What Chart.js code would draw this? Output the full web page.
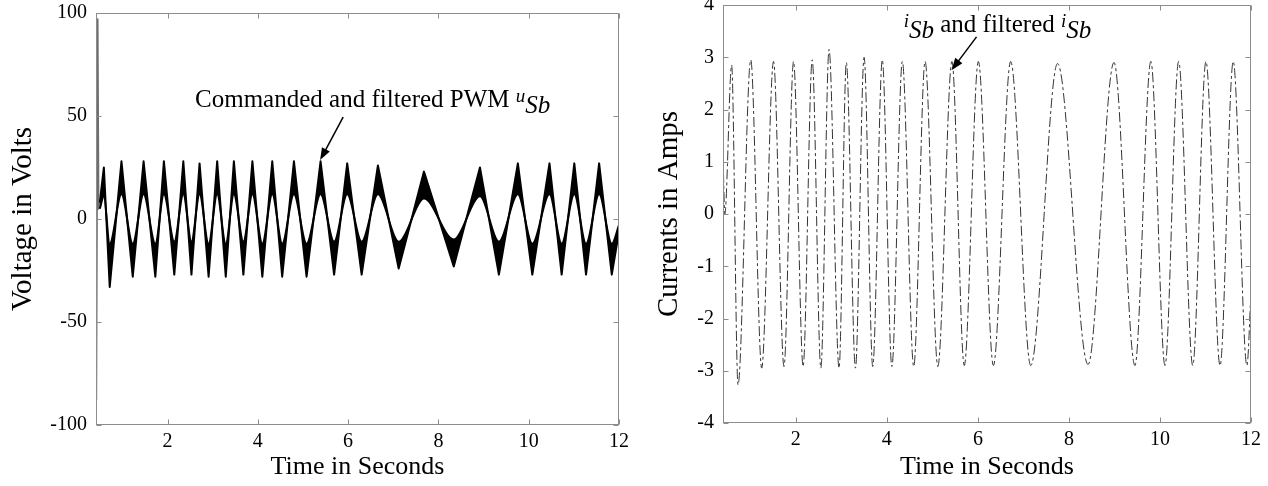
<!DOCTYPE html>
<html>
<head>
<meta charset="utf-8">
<script src="https://cdn.jsdelivr.net/npm/chart.js@4.4.0/dist/chart.umd.min.js"></script>
<style>
    html, body { margin: 0; padding: 0; background: #fff; }
    #wrap { position: relative; width: 1268px; height: 486px; overflow: hidden; }
    canvas { position: absolute; top: 0; }
    #volt-chart { left: 0; }
    #amp-chart { left: 640px; }
</style>
</head>
<body>
<div id="wrap">
    <canvas id="volt-chart" width="640" height="486"></canvas>
    <canvas id="amp-chart" width="628" height="486"></canvas>
</div>
<script>
// Left panel: PWM voltage band, read at its peaks and valleys
const voltTimes = [0.50, 0.59, 0.72, 0.98, 1.23, 1.47, 1.73, 1.92, 2.15, 2.35, 2.53, 2.71, 2.91, 3.10, 3.29, 3.47, 3.68, 3.88, 4.10, 4.32, 4.54,
    4.80, 5.08, 5.39, 5.69, 5.98, 6.30, 6.66, 7.12, 7.68, 8.34, 8.92, 9.34, 9.76, 10.08, 10.46, 10.73, 11.01, 11.27, 11.56, 11.84, 12.0];
const voltOuter = [8, 25, -33, 28, -28, 28, -28, 28, -27, 28, -27, 27, -28, 28, -28, 28, -27, 28, -28, 28, -28,
    28, -28, 28, -27, 27, -27, 26, -24, 23, -23, 25, -27, 27, -27, 27, -27, 27, -27, 27, -27, -6];
const voltInner = [5, 11, -12, 12, -12, 12, -12, 12, -11, 12, -11, 12, -12, 12, -12, 12, -11, 12, -12, 12, -12,
    12, -12, 12, -11, 12, -11, 12, -11, 10, -10, 11, -11, 12, -12, 12, -12, 12, -12, 12, -12, -3];
// start-up spike
const voltStartTimes = [0.42, 0.45, 0.47, 0.50];
const voltStartValues = [-88, 97, 5, 8];

// Right panel: i_Sb, read at its peaks and valleys
const ampTimes = [0.40, 0.44, 0.59, 0.73, 1.01, 1.25, 1.51, 1.74, 1.95, 2.16, 2.36, 2.55, 2.73, 2.95, 3.11, 3.31, 3.50, 3.69, 3.90, 4.11, 4.34,
    4.59, 4.84, 5.12, 5.43, 5.70, 6.01, 6.34, 6.72, 7.16, 7.75, 8.42, 8.99, 9.45, 9.80, 10.11, 10.41, 10.72, 11.01, 11.32, 11.61, 11.91, 12.0];
const ampValues = [1.15, 0.0, 2.85, -3.27, 2.95, -2.95, 2.92, -2.92, 2.92, -2.92, 2.95, -2.95, 3.15, -2.95, 2.9, -2.95, 3.0, -2.92, 2.95, -2.92, 2.92,
    -2.92, 2.92, -2.92, 2.92, -2.9, 2.92, -2.9, 2.92, -2.9, 2.88, -2.88, 2.9, -2.9, 2.92, -2.9, 2.92, -2.9, 2.92, -2.9, 2.92, -2.9, -1.5];

const timeTicks = [2, 4, 6, 8, 10, 12];
const voltTicks = [-100, -50, 0, 50, 100];
const ampTicks = [-4, -3, -2, -1, 0, 1, 2, 3, 4];

const SERIF = "'Liberation Serif', 'Times New Roman', serif";

const toPoints = (xs, ys) => xs.map((x, i) => ({ x, y: ys[i] }));

// box round the plot with small inward ticks on all four sides
const framePlugin = {
    id: 'frame',
    afterDatasetsDraw(chart) {
        const { ctx, chartArea: a, scales: { x, y } } = chart;
        const L = Math.round(a.left) + 0.5, R = Math.round(a.right) - 0.5;
        const T = Math.round(a.top) + 0.5, B = Math.round(a.bottom) - 0.5;
        ctx.save();
        ctx.strokeStyle = '#8c8c8c';
        ctx.lineWidth = 1;
        ctx.strokeRect(L, T, R - L, B - T);
        ctx.beginPath();
        x.ticks.forEach(t => {
            const px = Math.round(x.getPixelForValue(t.value)) + 0.5;
            ctx.moveTo(px, B); ctx.lineTo(px, B - 5);
            ctx.moveTo(px, T); ctx.lineTo(px, T + 5);
        });
        y.ticks.forEach(t => {
            const py = Math.round(y.getPixelForValue(t.value)) + 0.5;
            ctx.moveTo(L, py); ctx.lineTo(L + 5, py);
            ctx.moveTo(R, py); ctx.lineTo(R - 5, py);
        });
        ctx.stroke();
        ctx.restore();
    }
};

// text label with an arrow, placed in data units
const calloutPlugin = {
    id: 'callout',
    afterDraw(chart, args, opts) {
        if (!opts.parts) return;
        const { ctx, scales: { x, y } } = chart;
        ctx.save();
        ctx.fillStyle = '#000';
        ctx.textBaseline = 'alphabetic';
        let px = x.getPixelForValue(opts.at[0]);
        const py = y.getPixelForValue(opts.at[1]);
        opts.parts.forEach(p => {
            ctx.font = p.font;
            ctx.fillText(p.text, px, py + p.dy);
            px += ctx.measureText(p.text).width;
        });
        const x0 = x.getPixelForValue(opts.tail[0]), y0 = y.getPixelForValue(opts.tail[1]);
        const x1 = x.getPixelForValue(opts.tip[0]), y1 = y.getPixelForValue(opts.tip[1]);
        const ang = Math.atan2(y1 - y0, x1 - x0);
        ctx.strokeStyle = '#000';
        ctx.lineWidth = 1.5;
        ctx.beginPath();
        ctx.moveTo(x0, y0);
        ctx.lineTo(x1 - 8 * Math.cos(ang), y1 - 8 * Math.sin(ang));
        ctx.stroke();
        ctx.beginPath();
        ctx.moveTo(x1, y1);
        ctx.lineTo(x1 - 13 * Math.cos(ang - 0.35), y1 - 13 * Math.sin(ang - 0.35));
        ctx.lineTo(x1 - 13 * Math.cos(ang + 0.35), y1 - 13 * Math.sin(ang + 0.35));
        ctx.closePath();
        ctx.fill();
        ctx.restore();
    }
};

function baseOptions(cfg) {
    return {
        responsive: false,
        animation: false,
        events: [],
        layout: { padding: cfg.padding },
        plugins: {
            legend: { display: false },
            tooltip: { enabled: false },
            callout: cfg.callout
        },
        scales: {
            x: {
                type: 'linear',
                min: cfg.xMin,
                max: 12,
                grid: { display: false, drawTicks: false },
                border: { display: false },
                afterBuildTicks: s => { s.ticks = timeTicks.map(v => ({ value: v })); },
                afterFit: s => { s.height = cfg.xHeight; s.paddingLeft = 0; s.paddingRight = 0; },
                ticks: { color: '#000', padding: 5, maxRotation: 0, font: { family: SERIF, size: 20 } },
                title: {
                    display: true,
                    text: 'Time in Seconds',
                    color: '#000',
                    padding: { top: 0, bottom: 3 },
                    font: { family: SERIF, size: 26 }
                }
            },
            y: {
                type: 'linear',
                min: cfg.yTicks[0],
                max: cfg.yTicks[cfg.yTicks.length - 1],
                grid: { display: false, drawTicks: false },
                border: { display: false },
                afterBuildTicks: s => { s.ticks = cfg.yTicks.map(v => ({ value: v })); },
                afterFit: s => { s.width = cfg.yWidth; s.paddingTop = 0; s.paddingBottom = 0; },
                ticks: { color: '#000', padding: 9, font: { family: SERIF, size: 20 } },
                title: {
                    display: true,
                    text: cfg.yTitle,
                    color: '#000',
                    padding: { top: cfg.yTitlePad, bottom: 0 },
                    font: { family: SERIF, size: 29 }
                }
            }
        }
    };
}

new Chart(document.getElementById('volt-chart'), {
    type: 'line',
    data: {
        datasets: [
            {
                label: 'Commanded PWM',
                data: toPoints(voltTimes, voltOuter),
                borderColor: '#000',
                backgroundColor: '#000',
                borderWidth: 2,
                borderJoinStyle: 'round',
                pointRadius: 0,
                tension: 0,
                fill: '+1'
            },
            {
                label: 'Filtered PWM',
                data: toPoints(voltTimes, voltInner),
                borderColor: '#000',
                borderWidth: 2,
                borderJoinStyle: 'round',
                pointRadius: 0,
                cubicInterpolationMode: 'monotone',
                fill: false
            },
            {
                label: 'Start-up',
                data: toPoints(voltStartTimes, voltStartValues),
                borderColor: '#6e6e6e',
                borderWidth: 2,
                borderJoinStyle: 'round',
                pointRadius: 0,
                tension: 0,
                fill: false
            }
        ]
    },
    options: baseOptions({
        padding: { left: 0, top: 13, right: 21, bottom: 0 },
        xMin: 0.416,
        xHeight: 61,
        yWidth: 96,
        yTicks: voltTicks,
        yTitle: 'Voltage in Volts',
        yTitlePad: 6,
        callout: {
            at: [2.61, 54.4],
            tail: [5.89, 49.5],
            tip: [5.38, 28.6],
            parts: [
                { text: 'Commanded and filtered PWM ', font: `25px ${SERIF}`, dy: 0 },
                { text: 'u', font: `italic 19px ${SERIF}`, dy: -5 },
                { text: 'Sb', font: `italic 25px ${SERIF}`, dy: 6 }
            ]
        }
    }),
    plugins: [framePlugin, calloutPlugin]
});

new Chart(document.getElementById('amp-chart'), {
    type: 'line',
    data: {
        datasets: [{
            label: 'i_Sb and filtered i_Sb',
            data: toPoints(ampTimes, ampValues),
            borderColor: '#333',
            borderWidth: 1,
            borderDash: [10, 3, 3, 3],
            pointRadius: 0,
            cubicInterpolationMode: 'monotone',
            fill: false
        }]
    },
    options: baseOptions({
        padding: { left: 0, top: 5, right: 17, bottom: 0 },
        xMin: 0.4,
        xHeight: 63,
        yWidth: 83,
        yTicks: ampTicks,
        yTitle: 'Currents in Amps',
        yTitlePad: 12,
        callout: {
            at: [4.37, 3.48],
            tail: [5.97, 3.39],
            tip: [5.42, 2.75],
            parts: [
                { text: 'i', font: `italic 19px ${SERIF}`, dy: -5 },
                { text: 'Sb', font: `italic 25px ${SERIF}`, dy: 6 },
                { text: ' and filtered ', font: `25px ${SERIF}`, dy: 0 },
                { text: 'i', font: `italic 19px ${SERIF}`, dy: -5 },
                { text: 'Sb', font: `italic 25px ${SERIF}`, dy: 6 }
            ]
        }
    }),
    plugins: [framePlugin, calloutPlugin]
});
</script>
</body>
</html>
